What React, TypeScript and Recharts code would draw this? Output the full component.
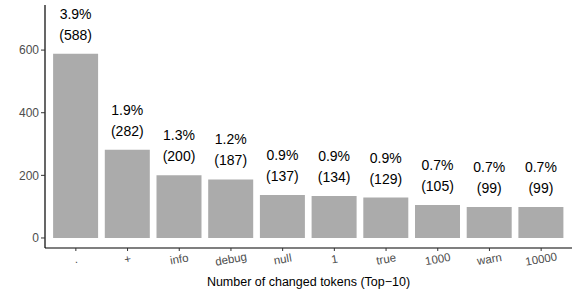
import React from 'react'
import { BarChart, Bar, XAxis, YAxis, LabelList } from 'recharts'

const tokens = ['.', '+', 'info', 'debug', 'null', '1', 'true', '1000', 'warn', '10000']
const counts = [588, 282, 200, 187, 137, 134, 129, 105, 99, 99]
const percents = ['3.9%', '1.9%', '1.3%', '1.2%', '0.9%', '0.9%', '0.9%', '0.7%', '0.7%', '0.7%']
const yTicks = [0, 200, 400, 600]

const data = tokens.map((t, i) => ({ token: t, count: counts[i], pct: percents[i] }))

const font = 'Liberation Sans, Arial, sans-serif'

function BarLabel(props: any) {
  const { x, y, width, index } = props
  const cx = x + width / 2
  return (
    <g>
      <text x={cx} y={y - 40} textAnchor="middle" dominantBaseline="central" fontSize={14} fill="#000" fontFamily={font}>
        {percents[index]}
      </text>
      <text x={cx} y={y - 19} textAnchor="middle" dominantBaseline="central" fontSize={14} fill="#000" fontFamily={font}>
        ({counts[index]})
      </text>
    </g>
  )
}

function XTick(props: any) {
  const { x, y, payload } = props
  return (
    <text
      x={x}
      y={y + 6}
      textAnchor="middle"
      dominantBaseline="central"
      fontSize={11.5}
      fill="#4d4d4d"
      fontFamily={font}
      transform={`rotate(-10, ${x}, ${y + 6})`}
    >
      {payload.value}
    </text>
  )
}

export default function App() {
  return (
    <div style={{ position: 'absolute', left: 0, top: 0, background: '#fff' }}>
      <BarChart
        width={581}
        height={291}
        data={data}
        margin={{ top: 5, right: 9, bottom: 0, left: 0 }}
        barCategoryGap="6%"
      >
        <XAxis
          dataKey="token"
          interval={0}
          padding={{ left: 5, right: 5 }}
          axisLine={{ stroke: '#000', strokeWidth: 1.2 }}
          tickLine={{ stroke: '#333' }}
          tickSize={3}
          tick={<XTick />}
          height={43}
          label={{
            value: 'Number of changed tokens (Top\u221210)',
            position: 'insideBottom',
            offset: 5,
            fill: '#000',
            fontSize: 12.5,
            fontFamily: font,
          }}
        />
        <YAxis
          width={45}
          domain={[-32, 744]}
          ticks={yTicks}
          allowDataOverflow
          axisLine={{ stroke: '#000', strokeWidth: 1.2 }}
          tickLine={{ stroke: '#333' }}
          tickSize={4}
          tick={{ fill: '#4d4d4d', fontSize: 12, fontFamily: font }}
        />
        <Bar dataKey="count" fill="#ababab" isAnimationActive={false}>
          <LabelList dataKey="count" content={<BarLabel />} />
        </Bar>
      </BarChart>
    </div>
  )
}
